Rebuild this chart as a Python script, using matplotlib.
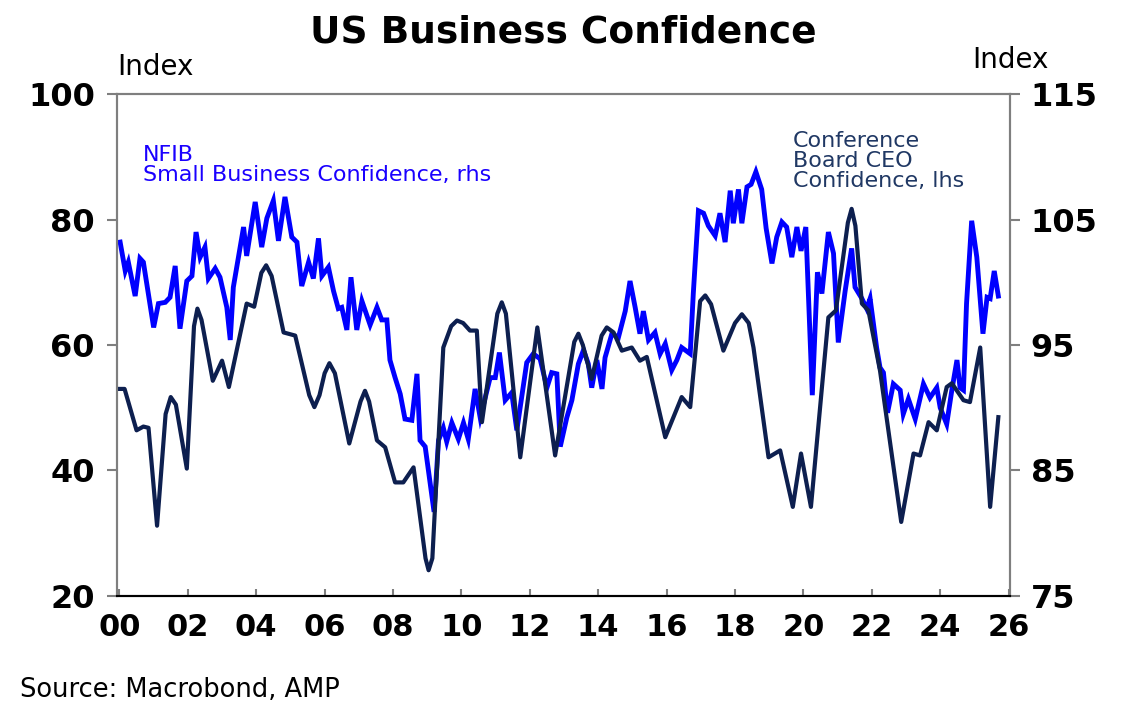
import matplotlib
matplotlib.use("Agg")
import matplotlib.pyplot as plt

# Conference Board CEO confidence (lhs)
ceo_dates = [2000.0, 2000.15, 2000.5, 2000.7, 2000.85, 2001.1, 2001.35, 2001.5, 2001.65, 2001.97,
             2002.18, 2002.28, 2002.4, 2002.73, 2003.0, 2003.2, 2003.72, 2003.94, 2004.15, 2004.29,
             2004.45, 2004.8, 2005.14, 2005.55, 2005.7, 2005.85, 2006.0, 2006.14, 2006.3, 2006.72,
             2007.05, 2007.18, 2007.3, 2007.53, 2007.77, 2008.06, 2008.3, 2008.6, 2008.95, 2009.04,
             2009.15, 2009.47, 2009.7, 2009.87, 2010.05, 2010.25, 2010.45, 2010.6, 2011.05, 2011.18,
             2011.3, 2011.72, 2012.22, 2012.74, 2013.3, 2013.42, 2013.55, 2013.81, 2014.1, 2014.25,
             2014.45, 2014.69, 2014.98, 2015.22, 2015.42, 2015.96, 2016.44, 2016.69, 2016.98, 2017.13,
             2017.3, 2017.66, 2018.0, 2018.2, 2018.4, 2018.54, 2018.98, 2019.32, 2019.69, 2019.93,
             2020.22, 2020.73, 2020.95, 2021.3, 2021.41, 2021.52, 2021.71, 2021.9, 2022.24, 2022.86,
             2023.22, 2023.41, 2023.66, 2023.9, 2024.19, 2024.34, 2024.68, 2024.87, 2025.17, 2025.46,
             2025.7]
ceo_values = [53.0, 53.0, 46.4, 47.0, 46.8, 31.2, 49.0, 51.7, 50.5, 40.3,
              63.0, 65.8, 64.0, 54.3, 57.5, 53.3, 66.6, 66.1, 71.5, 72.7,
              71.0, 62.0, 61.5, 52.0, 50.1, 52.0, 55.5, 57.1, 55.5, 44.3,
              51.0, 52.7, 51.0, 44.8, 43.7, 38.1, 38.1, 40.5, 26.0, 24.1,
              26.0, 59.6, 63.0, 63.9, 63.5, 62.3, 62.3, 47.7, 65.0, 66.8,
              65.0, 42.1, 62.8, 42.4, 60.5, 61.8, 60.0, 54.6, 61.5, 62.8,
              62.0, 59.1, 59.6, 57.5, 58.1, 45.3, 51.7, 50.1, 67.0, 67.9,
              66.5, 59.1, 63.5, 64.9, 63.5, 59.6, 42.1, 43.2, 34.2, 42.7,
              34.2, 64.4, 65.5, 79.5, 81.7, 79.0, 66.6, 65.5, 55.9, 31.8,
              42.7, 42.4, 47.7, 46.4, 53.3, 53.9, 51.2, 50.9, 59.6, 34.2,
              48.5]

# NFIB small business optimism (rhs)
nfib_dates = [2000.02, 2000.17, 2000.26, 2000.46, 2000.6, 2000.7, 2001.0, 2001.14, 2001.34, 2001.48,
              2001.63, 2001.77, 2001.97, 2002.12, 2002.24, 2002.36, 2002.5, 2002.6, 2002.8, 2002.94,
              2003.14, 2003.24, 2003.33, 2003.48, 2003.63, 2003.72, 2003.97, 2004.16, 2004.31, 2004.5,
              2004.65, 2004.84, 2005.04, 2005.19, 2005.33, 2005.53, 2005.67, 2005.82, 2005.92, 2006.11,
              2006.26, 2006.4, 2006.5, 2006.65, 2006.77, 2006.94, 2007.09, 2007.33, 2007.53, 2007.67,
              2007.82, 2007.91, 2008.06, 2008.21, 2008.35, 2008.55, 2008.7, 2008.79, 2008.94, 2009.2,
              2009.33, 2009.47, 2009.57, 2009.72, 2009.91, 2010.06, 2010.2, 2010.4, 2010.55, 2010.84,
              2010.99, 2011.11, 2011.28, 2011.47, 2011.62, 2011.91, 2012.1, 2012.3, 2012.5, 2012.64,
              2012.79, 2012.89, 2013.08, 2013.23, 2013.42, 2013.57, 2013.71, 2013.81, 2013.96, 2014.11,
              2014.2, 2014.4, 2014.59, 2014.79, 2014.93, 2015.08, 2015.22, 2015.32, 2015.47, 2015.66,
              2015.81, 2015.96, 2016.15, 2016.3, 2016.44, 2016.69, 2016.78, 2016.93, 2017.08, 2017.22,
              2017.42, 2017.56, 2017.71, 2017.86, 2017.95, 2018.1, 2018.2, 2018.35, 2018.47, 2018.61,
              2018.78, 2018.91, 2019.08, 2019.22, 2019.37, 2019.51, 2019.66, 2019.81, 2019.93, 2020.07,
              2020.26, 2020.41, 2020.54, 2020.73, 2020.88, 2021.02, 2021.22, 2021.41, 2021.51, 2021.71,
              2021.85, 2021.95, 2022.14, 2022.24, 2022.34, 2022.46, 2022.63, 2022.83, 2022.92, 2023.07,
              2023.27, 2023.51, 2023.7, 2023.9, 2024.0, 2024.19, 2024.34, 2024.49, 2024.58, 2024.68,
              2024.77, 2024.92, 2025.07, 2025.25, 2025.37, 2025.46, 2025.58, 2025.7]
nfib_values = [103.2, 100.9, 101.6, 98.9, 101.9, 101.6, 96.4, 98.3, 98.4, 98.8,
               101.3, 96.3, 100.1, 100.5, 104.0, 102.0, 102.8, 100.3, 101.1, 100.4,
               98.0, 95.4, 99.6, 102.0, 104.4, 102.1, 106.4, 102.8, 105.1, 106.5,
               103.3, 106.8, 103.6, 103.2, 99.7, 101.6, 100.3, 103.5, 100.5, 101.2,
               99.3, 97.9, 98.0, 96.2, 100.4, 96.2, 98.5, 96.6, 98.0, 97.0,
               97.0, 93.8, 92.4, 91.1, 89.1, 89.0, 92.7, 87.4, 86.9, 81.7,
               87.4, 88.4, 87.3, 88.8, 87.5, 88.8, 87.5, 91.5, 89.2, 92.4,
               92.4, 94.4, 90.6, 91.2, 88.2, 93.6, 94.3, 93.9, 91.6, 92.8,
               92.7, 86.9, 89.2, 90.6, 93.5, 94.6, 93.5, 91.6, 93.8, 91.5,
               94.0, 95.9, 95.6, 97.7, 100.1, 98.0, 95.9, 97.7, 95.4, 96.0,
               94.3, 95.1, 93.0, 93.8, 94.8, 94.3, 99.1, 105.7, 105.5, 104.5,
               103.7, 105.5, 103.2, 107.3, 104.7, 107.4, 104.7, 107.6, 107.8, 108.8,
               107.4, 104.3, 101.5, 103.6, 104.8, 104.4, 102.0, 104.4, 102.5, 104.4,
               91.0, 100.8, 99.1, 104.0, 102.3, 95.2, 99.3, 102.7, 99.6, 98.7,
               97.9, 98.7, 94.8, 93.2, 92.8, 89.6, 91.9, 91.4, 89.5, 90.7,
               89.1, 91.9, 90.8, 91.6, 90.0, 88.7, 91.4, 93.8, 91.6, 91.4,
               98.3, 104.9, 102.0, 95.9, 98.8, 98.7, 100.9, 98.9]

left_ticks = [20, 40, 60, 80, 100]
right_ticks = [75, 85, 95, 105, 115]
year_ticks = list(range(2000, 2027, 2))
year_labels = ['%02d' % (y % 100) for y in year_ticks]

navy = '#0d1f4f'
blue = '#0000ff'
grey = '#7f7f7f'

fig = plt.figure(figsize=(11.32, 7.21), dpi=100)
ax = fig.add_axes([0.1034, 0.1734, 0.7888, 0.6962])
ax2 = ax.twinx()

# CEO line sits on top of the NFIB line
ax.set_zorder(2)
ax2.set_zorder(1)
ax.patch.set_visible(False)

ax2.plot(nfib_dates, nfib_values, color=blue, lw=3.5, solid_joinstyle='miter')
ax.plot(ceo_dates, ceo_values, color=navy, lw=3.0, solid_joinstyle='round')

ax.set_xlim(1999.93, 2026.04)
ax.set_ylim(20, 100)
ax2.set_ylim(75, 115)

ax.set_xticks(year_ticks)
ax.set_xticklabels(year_labels)
ax.set_yticks(left_ticks)
ax2.set_yticks(right_ticks)

for a in (ax, ax2):
    for side in ('left', 'right', 'top'):
        a.spines[side].set_color(grey)
        a.spines[side].set_linewidth(1.5)
    a.spines['bottom'].set_color('black')
    a.spines['bottom'].set_linewidth(1.5)

ax.tick_params(axis='y', direction='out', length=7, width=1.5, color=grey, pad=9,
               labelsize=23)
ax2.tick_params(axis='y', direction='out', length=7, width=1.5, color=grey, pad=8,
                labelsize=23)
ax.tick_params(axis='x', direction='in', length=5, width=1.5, color=grey, pad=12,
               labelsize=22)
for lab in ax.get_xticklabels() + ax.get_yticklabels() + ax2.get_yticklabels():
    lab.set_fontweight('bold')

# titles and labels
fig.text(0.4978, 0.9404, 'US Business Confidence', ha='center', va='baseline',
         fontsize=27, fontweight='bold')
fig.text(117 / 1132, 1 - 75 / 721, 'Index', ha='left', va='baseline', fontsize=20)
fig.text(1049 / 1132, 1 - 68 / 721, 'Index', ha='right', va='baseline', fontsize=20)

fig.text(143 / 1132, 1 - 145 / 721, 'NFIB\nSmall Business Confidence, rhs',
         ha='left', va='top', fontsize=16, color='#1a00ff', linespacing=1.0)
fig.text(793 / 1132, 1 - 131 / 721, 'Conference\nBoard CEO\nConfidence, lhs',
         ha='left', va='top', fontsize=16, color='#203864', linespacing=1.0)

fig.text(20 / 1132, 1 - 697 / 721, 'Source: Macrobond, AMP', ha='left', va='baseline',
         fontsize=18.5)

fig.savefig('out.png', dpi=100)
